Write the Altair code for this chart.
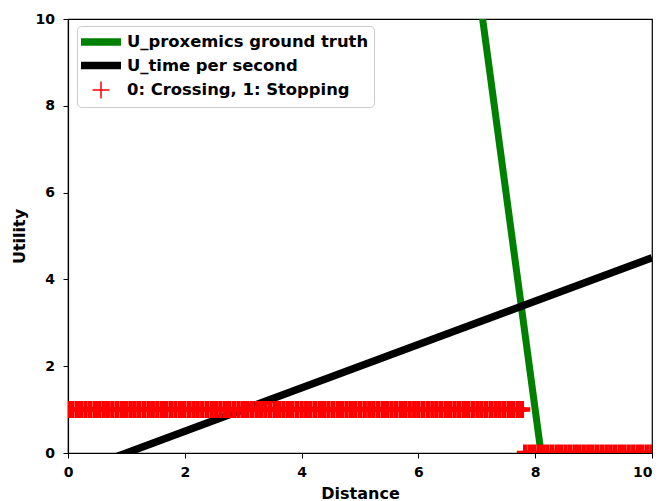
import altair as alt
import pandas as pd

# ---- data ----
series_names = ["U_proxemics ground truth", "U_time per second", "0: Crossing, 1: Stopping"]
series_colors = ["green", "black", "red"]

prox_x = [7.0, 8.1]
prox_y = [11.0, 0.0]

time_x = [0.0, 10.0]
time_y = [-0.5, 4.5]

stop_x = [0.00, 0.07, 0.15, 0.22, 0.30, 0.38, 0.46, 0.53, 0.61, 0.68, 0.76, 0.84, 0.92, 0.99,
          1.07, 1.14, 1.22, 1.30, 1.38, 1.45, 1.53, 1.61, 1.68, 1.76, 1.84, 1.92, 1.99, 2.07,
          2.15, 2.22, 2.30, 2.38, 2.46, 2.53, 2.61, 2.69, 2.76, 2.84, 2.92, 3.00, 3.07, 3.15,
          3.23, 3.30, 3.38, 3.46, 3.54, 3.61, 3.69, 3.77, 3.84, 3.92, 4.00, 4.08, 4.15, 4.23,
          4.31, 4.38, 4.46, 4.54, 4.62, 4.69, 4.77, 4.85, 4.92, 5.00, 5.08, 5.16, 5.23, 5.31,
          5.39, 5.46, 5.54, 5.62, 5.70, 5.77, 5.85, 5.93, 6.00, 6.08, 6.16, 6.24, 6.31, 6.39,
          6.47, 6.54, 6.62, 6.70, 6.78, 6.85, 6.93, 7.01, 7.08, 7.16, 7.24, 7.32, 7.39, 7.47,
          7.55, 7.62, 7.70, 7.77]
cross_x = [7.83, 7.91, 7.98, 8.06, 8.14, 8.21, 8.29, 8.37, 8.44, 8.52, 8.60, 8.68, 8.75,
           8.83, 8.91, 8.98, 9.06, 9.14, 9.22, 9.29, 9.37, 9.45, 9.52, 9.60, 9.68, 9.76,
           9.83, 9.91, 9.99]
stop_val = 1
cross_val = 0

x_ticks = [0, 2, 4, 6, 8, 10]
y_ticks = [0, 2, 4, 6, 8, 10]

# legend/marker glyphs (unit coords, scaled by sqrt(size)/2 = 10 px)
LINE_SHAPE = ("M-1.2,-0.3H2.8M-1.2,-0.2H2.8M-1.2,-0.1H2.8M-1.2,0H2.8"
              "M-1.2,0.1H2.8M-1.2,0.2H2.8M-1.2,0.3H2.8")
PLUS_SHAPE = "M-0.05,0H1.65M0.8,-0.85V0.85"
PLUS_SHIFT = -8  # recentre the plus glyph on its data point in the plot

prox_df = pd.DataFrame({"x": prox_x, "y": prox_y, "series": series_names[0]})
time_df = pd.DataFrame({"x": time_x, "y": time_y, "series": series_names[1]})
pts_df = pd.DataFrame({
    "x": stop_x + cross_x,
    "y": [stop_val] * len(stop_x) + [cross_val] * len(cross_x),
    "series": series_names[2],
})

FONT = "DejaVu Sans"

x_enc = alt.X("x:Q", title="Distance",
              scale=alt.Scale(domain=[0, 10], nice=False, zero=False),
              axis=alt.Axis(values=x_ticks, labelPadding=7, titlePadding=6, labelFlush=False,
                            labelAlign={"condition": {"test": "datum.value == 10", "value": "right"},
                                        "value": "center"}))
y_enc = alt.Y("y:Q", title="Utility",
              scale=alt.Scale(domain=[0, 10], nice=False, zero=False),
              axis=alt.Axis(values=y_ticks, labelPadding=8.5, titlePadding=8, labelFlush=False))

legend = alt.Legend(
    title=None, orient="none", legendX=9, legendY=7,
    padding=5, fillColor="white", strokeColor="#cccccc", cornerRadius=4,
    labelFont=FONT, labelFontWeight="bold", labelFontSize=16.4, labelColor="black",
    labelLimit=0, symbolSize=400, symbolStrokeWidth=1.5, symbolOpacity=1,
    labelOffset=23, rowPadding=3.5,
)

color_scale = alt.Scale(domain=series_names, range=series_colors)
shape_scale = alt.Scale(domain=series_names, range=[LINE_SHAPE, LINE_SHAPE, PLUS_SHAPE])

prox = alt.Chart(prox_df).mark_line(strokeWidth=7, clip=True).encode(
    x=x_enc, y=y_enc, color=alt.Color("series:N", scale=color_scale, legend=legend))
timel = alt.Chart(time_df).mark_line(strokeWidth=7.5, clip=True).encode(
    x=x_enc, y=y_enc, color=alt.Color("series:N", scale=color_scale, legend=legend))
pts = alt.Chart(pts_df).mark_point(filled=False, strokeWidth=4.5, size=400, opacity=1,
                                   clip=True, xOffset=PLUS_SHIFT).encode(
    x=x_enc, y=y_enc,
    color=alt.Color("series:N", scale=color_scale, legend=legend),
    shape=alt.Shape("series:N", scale=shape_scale, legend=legend))

chart = alt.layer(prox, timel, pts).properties(
    width=584, height=434,
    autosize=alt.AutoSizeParams(type="none"),
    padding={"left": 60, "top": 11, "right": 2, "bottom": 48},
).configure_view(stroke="black", strokeWidth=1.2).configure_axis(
    grid=False, domainColor="black", domainWidth=1.2, tickColor="black", tickSize=5,
    labelFont=FONT, labelFontWeight="bold", labelFontSize=14, labelColor="black",
    titleFont=FONT, titleFontWeight="bold", titleFontSize=16, titleColor="black",
)

chart.save("out.html", embed_options={"renderer": "svg", "actions": False})
